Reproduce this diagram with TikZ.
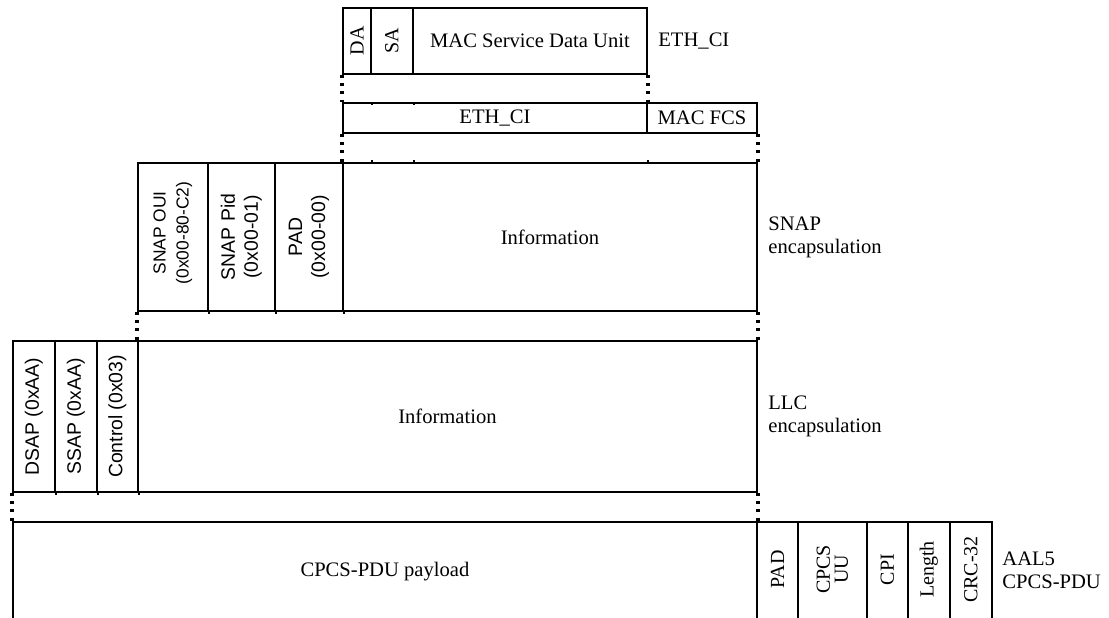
\documentclass[tikz,border=0pt]{standalone}
\usepackage{fontspec}
\setmainfont{Liberation Serif}
\newfontfamily\fieldsans{Liberation Sans}
\begin{document}
\begin{tikzpicture}[x=0.5pt,y=-0.5pt,
  fld/.style={draw, line width=0.95pt, inner sep=0pt, anchor=north west,
    font=\fontsize{10.3}{11.5}\selectfont},
  vlab/.style={rotate=90, align=center, inner sep=0pt,
    font=\fontsize{10}{9}\selectfont},
  vsans/.style={rotate=90, align=center, inner sep=0pt,
    font=\fieldsans\fontsize{9.7}{11.5}\selectfont},
  dotlink/.style={line width=1.6pt, dash pattern=on 1.5pt off 2.6pt},
  tickmark/.style={line width=0.95pt},
  side/.style={anchor=west, align=left, inner sep=0pt,
    font=\fontsize{10.3}{11.5}\selectfont}]
\useasboundingbox (0,0) rectangle (1109,617);
\clip (0,0) rectangle (1109,617);

% --- Ethernet frame
\node[fld, minimum width=14pt,  minimum height=33pt] (da)   at (342,7) {};
\node[fld, minimum width=21pt,  minimum height=33pt] (sa)   at (370,7) {};
\node[fld, minimum width=117pt, minimum height=33pt] (msdu) at (412,7) {MAC Service Data Unit};
\node[vlab] at (da.center) {DA};
\node[vlab] at (sa.center) {SA};
\node[side] (lbleth) at (658,41) {ETH\_CI};

% --- ETH_CI + FCS
\node[fld, minimum width=152pt, minimum height=15pt] (ethci) at (342,102) {ETH\_CI};
\node[fld, minimum width=55pt,  minimum height=15pt] (fcs)   at (646,102) {MAC FCS};

% --- SNAP encapsulation
\node[fld, minimum width=35pt,  minimum height=74pt] (oui)   at (137,162) {};
\node[fld, minimum width=33.5pt,minimum height=74pt] (pid)   at (207,162) {};
\node[fld, minimum width=34pt,  minimum height=74pt] (spad)  at (274,162) {};
\node[fld, minimum width=207pt, minimum height=74pt] (sinfo) at (342,162) {Information};
\node[vsans, font=\fieldsans\fontsize{8.7}{11.5}\selectfont] at ([yshift=2pt]oui.center) {SNAP OUI\\(0x00-80-C2)};
\node[vsans] at (pid.center) {SNAP Pid\\(0x00-01)};
\node[vsans] at (spad.center) {PAD\\(0x00-00)};
\node[side] (lblsnap) at (768,237) {SNAP\\encapsulation};

% --- LLC encapsulation
\node[fld, minimum width=21pt,   minimum height=75.5pt] (dsap)  at (12,340) {};
\node[fld, minimum width=21pt,   minimum height=75.5pt] (ssap)  at (54,340) {};
\node[fld, minimum width=20.5pt, minimum height=75.5pt] (ctrl)  at (96,340) {};
\node[fld, minimum width=309.5pt,minimum height=75.5pt] (linfo) at (137,340) {Information};
\node[vsans] at (dsap.center) {DSAP (0xAA)};
\node[vsans] at (ssap.center) {SSAP (0xAA)};
\node[vsans] at (ctrl.center) {Control (0x03)};
\node[side] (lblllc) at (768,416) {LLC\\encapsulation};

% --- AAL5 CPCS-PDU (runs past the lower edge)
\node[fld, minimum width=372pt,  minimum height=49.5pt] (payload) at (12,521) {CPCS-PDU payload};
\node[fld, minimum width=20.5pt, minimum height=49.5pt] (apad) at (756,521) {};
\node[fld, minimum width=34.5pt, minimum height=49.5pt] (uu)   at (797,521) {};
\node[fld, minimum width=20.5pt, minimum height=49.5pt] (cpi)  at (866,521) {};
\node[fld, minimum width=21pt,   minimum height=49.5pt] (len)  at (907,521) {};
\node[fld, minimum width=21pt,   minimum height=49.5pt] (crc)  at (949,521) {};
\node[vlab] at ([yshift=1pt]apad.center) {PAD};
\node[vlab] at ([yshift=1pt]uu.center) {CPCS\\UU};
\node[vlab] at ([yshift=1pt]cpi.center) {CPI};
\node[vlab] at ([yshift=1pt]len.center) {Length};
\node[vlab] at ([yshift=1pt]crc.center) {CRC-32};
\node[side] (lblaal) at (1002,570) {AAL5\\CPCS-PDU};

% --- dotted links between layers
\draw[dotlink] (da.south west)    -- (ethci.north west);
\draw[dotlink] (msdu.south east)  -- (ethci.north east);
\draw[dotlink] (ethci.south west) -- (sinfo.north west);
\draw[dotlink] (fcs.south east)   -- (sinfo.north east);
\draw[dotlink] (oui.south west)   -- (linfo.north west);
\draw[dotlink] (sinfo.south east) -- (linfo.north east);
\draw[dotlink] (dsap.south west)  -- (payload.north west);
\draw[dotlink] (linfo.south east) -- (payload.north east);

% --- small ticks marking field boundaries
\foreach \n in {da,sa} {
  \draw[tickmark] (\n.south east |- ethci.north) -- ++(0,3);
  \draw[tickmark] (\n.south east |- sinfo.north) -- ++(0,-2);
}
\draw[tickmark] (msdu.south east |- sinfo.north) -- ++(0,-2);
\foreach \n in {oui,pid,spad} \draw[tickmark] (\n.south east) -- ++(0,2);
\foreach \n in {dsap,ssap,ctrl} \draw[tickmark] (\n.south east) -- ++(0,2);
\end{tikzpicture}
\end{document}
